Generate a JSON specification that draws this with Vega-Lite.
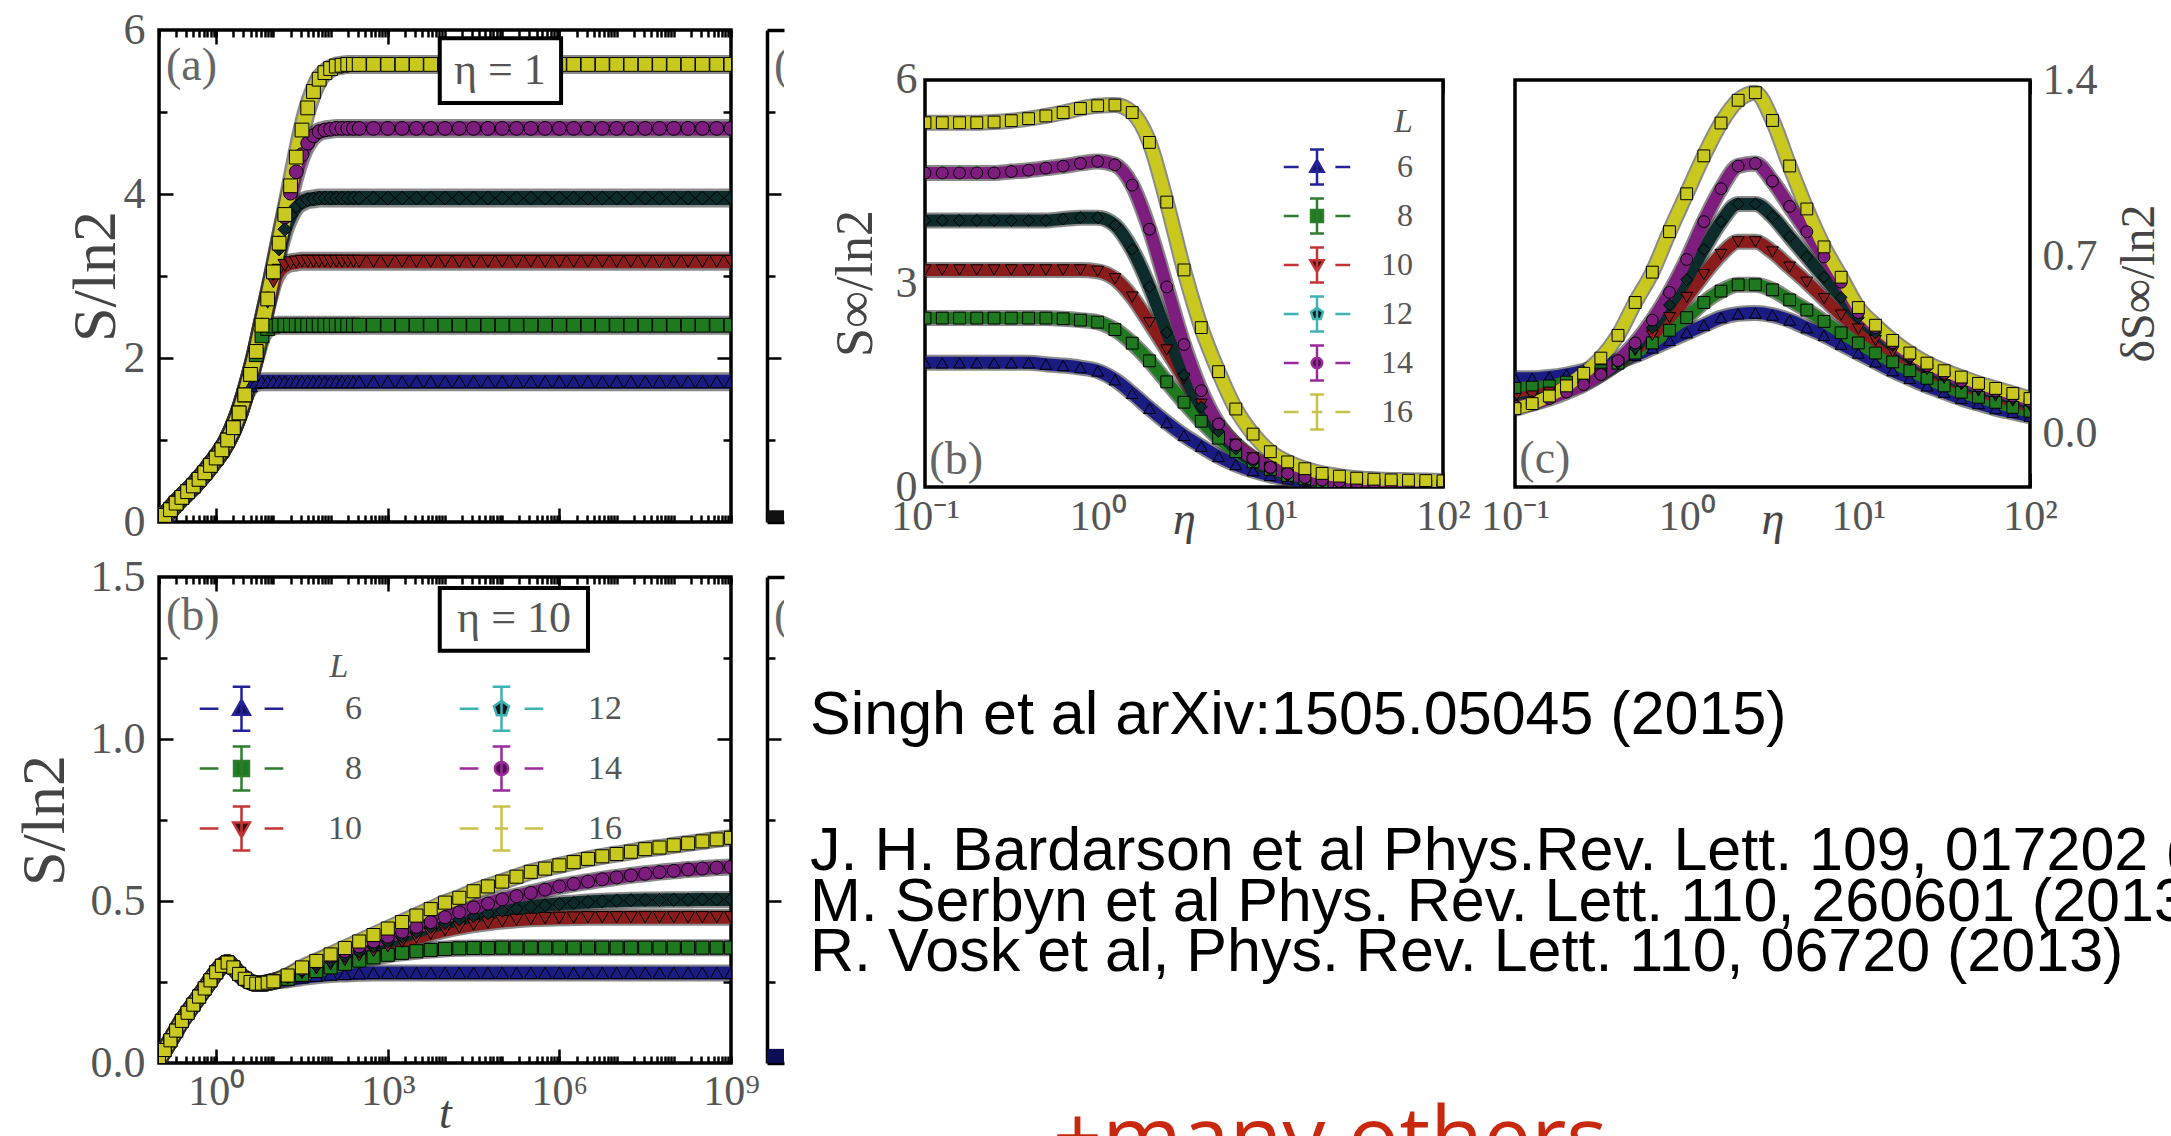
{
"$schema":"https://vega.github.io/schema/vega-lite/v6.json",
"padding":0,
"background":"white",
"spacing":0,
"columns":8,
"align":"each",
"bounds":"flush",
"config":{
 "view":{"stroke":null},
 "axis":{"grid":false,"domain":false,"tickColor":"black","tickWidth":2.5,"labelFont":"Liberation Serif","labelFontSize":44,"labelColor":"#555","titleFont":"Liberation Serif","titleFontWeight":"normal","titleColor":"#444","labelFlush":false,"labelOverlap":false},
 "legend":{"labelFont":"Liberation Serif","labelColor":"#555","titleFont":"Liberation Serif","titleFontWeight":"normal","titleColor":"#555"}
},
"datasets":{
"pa":[
{"t":0.1,"6":0.02,"8":0.02,"10":0.02,"12":0.02,"14":0.02,"16":0.02},
{"t":0.1259,"6":0.08,"8":0.08,"10":0.08,"12":0.08,"14":0.08,"16":0.08},
{"t":0.1585,"6":0.15,"8":0.15,"10":0.15,"12":0.15,"14":0.15,"16":0.15},
{"t":0.1995,"6":0.23,"8":0.23,"10":0.23,"12":0.23,"14":0.23,"16":0.23},
{"t":0.2512,"6":0.3,"8":0.3,"10":0.3,"12":0.3,"14":0.3,"16":0.3},
{"t":0.3162,"6":0.37,"8":0.37,"10":0.37,"12":0.37,"14":0.37,"16":0.37},
{"t":0.3981,"6":0.44,"8":0.44,"10":0.44,"12":0.44,"14":0.44,"16":0.44},
{"t":0.5012,"6":0.52,"8":0.52,"10":0.52,"12":0.52,"14":0.52,"16":0.52},
{"t":0.631,"6":0.6,"8":0.6,"10":0.6,"12":0.6,"14":0.6,"16":0.6},
{"t":0.7943,"6":0.69,"8":0.69,"10":0.69,"12":0.69,"14":0.69,"16":0.69},
{"t":1,"6":0.78,"8":0.78,"10":0.78,"12":0.78,"14":0.78,"16":0.78},
{"t":1.259,"6":0.88,"8":0.88,"10":0.88,"12":0.88,"14":0.88,"16":0.88},
{"t":1.585,"6":1.0,"8":1.0,"10":1.0,"12":1.0,"14":1.0,"16":1.0},
{"t":1.995,"6":1.15,"8":1.15,"10":1.15,"12":1.15,"14":1.15,"16":1.15},
{"t":2.512,"6":1.33,"8":1.33,"10":1.33,"12":1.33,"14":1.33,"16":1.33},
{"t":3.162,"6":1.54,"8":1.55,"10":1.55,"12":1.55,"14":1.55,"16":1.55},
{"t":3.981,"6":1.66,"8":1.8,"10":1.8,"12":1.8,"14":1.8,"16":1.8},
{"t":5.012,"6":1.7,"8":2.04,"10":2.08,"12":2.08,"14":2.08,"16":2.08},
{"t":6.31,"6":1.71,"8":2.27,"10":2.4,"12":2.4,"14":2.4,"16":2.4},
{"t":7.943,"6":1.71,"8":2.36,"10":2.68,"12":2.72,"14":2.72,"16":2.72},
{"t":10,"6":1.71,"8":2.39,"10":2.93,"12":3.03,"14":3.05,"16":3.05},
{"t":12.59,"6":1.71,"8":2.4,"10":3.07,"12":3.33,"14":3.4,"16":3.4},
{"t":15.85,"6":1.71,"8":2.4,"10":3.13,"12":3.57,"14":3.72,"16":3.75},
{"t":19.95,"6":1.71,"8":2.4,"10":3.16,"12":3.74,"14":4.01,"16":4.1},
{"t":25.12,"6":1.71,"8":2.4,"10":3.17,"12":3.85,"14":4.27,"16":4.45},
{"t":31.62,"6":1.71,"8":2.4,"10":3.18,"12":3.9,"14":4.48,"16":4.78},
{"t":39.81,"6":1.71,"8":2.4,"10":3.18,"12":3.93,"14":4.62,"16":5.05},
{"t":50.12,"6":1.71,"8":2.4,"10":3.18,"12":3.94,"14":4.71,"16":5.25},
{"t":63.1,"6":1.71,"8":2.4,"10":3.18,"12":3.95,"14":4.76,"16":5.4},
{"t":79.43,"6":1.71,"8":2.4,"10":3.18,"12":3.95,"14":4.78,"16":5.48},
{"t":100,"6":1.71,"8":2.4,"10":3.18,"12":3.95,"14":4.79,"16":5.53},
{"t":125.9,"6":1.71,"8":2.4,"10":3.18,"12":3.95,"14":4.8,"16":5.56},
{"t":158.5,"6":1.71,"8":2.4,"10":3.18,"12":3.95,"14":4.8,"16":5.57},
{"t":199.5,"6":1.71,"8":2.4,"10":3.18,"12":3.95,"14":4.8,"16":5.58},
{"t":251.2,"6":1.71,"8":2.4,"10":3.18,"12":3.95,"14":4.8,"16":5.58},
{"t":316.2,"6":1.71,"8":2.4,"10":3.18,"12":3.95,"14":4.8,"16":5.58},
{"t":562.3,"6":1.71,"8":2.4,"10":3.18,"12":3.95,"14":4.8,"16":5.58},
{"t":1000,"6":1.71,"8":2.4,"10":3.18,"12":3.95,"14":4.8,"16":5.58},
{"t":1778,"6":1.71,"8":2.4,"10":3.18,"12":3.95,"14":4.8,"16":5.58},
{"t":3162,"6":1.71,"8":2.4,"10":3.18,"12":3.95,"14":4.8,"16":5.58},
{"t":5623,"6":1.71,"8":2.4,"10":3.18,"12":3.95,"14":4.8,"16":5.58},
{"t":1e4,"6":1.71,"8":2.4,"10":3.18,"12":3.95,"14":4.8,"16":5.58},
{"t":1.778e4,"6":1.71,"8":2.4,"10":3.18,"12":3.95,"14":4.8,"16":5.58},
{"t":3.162e4,"6":1.71,"8":2.4,"10":3.18,"12":3.95,"14":4.8,"16":5.58},
{"t":5.623e4,"6":1.71,"8":2.4,"10":3.18,"12":3.95,"14":4.8,"16":5.58},
{"t":1e5,"6":1.71,"8":2.4,"10":3.18,"12":3.95,"14":4.8,"16":5.58},
{"t":1.778e5,"6":1.71,"8":2.4,"10":3.18,"12":3.95,"14":4.8,"16":5.58},
{"t":3.162e5,"6":1.71,"8":2.4,"10":3.18,"12":3.95,"14":4.8,"16":5.58},
{"t":5.623e5,"6":1.71,"8":2.4,"10":3.18,"12":3.95,"14":4.8,"16":5.58},
{"t":1e6,"6":1.71,"8":2.4,"10":3.18,"12":3.95,"14":4.8,"16":5.58},
{"t":1.778e6,"6":1.71,"8":2.4,"10":3.18,"12":3.95,"14":4.8,"16":5.58},
{"t":3.162e6,"6":1.71,"8":2.4,"10":3.18,"12":3.95,"14":4.8,"16":5.58},
{"t":5.623e6,"6":1.71,"8":2.4,"10":3.18,"12":3.95,"14":4.8,"16":5.58},
{"t":1e7,"6":1.71,"8":2.4,"10":3.18,"12":3.95,"14":4.8,"16":5.58},
{"t":1.778e7,"6":1.71,"8":2.4,"10":3.18,"12":3.95,"14":4.8,"16":5.58},
{"t":3.162e7,"6":1.71,"8":2.4,"10":3.18,"12":3.95,"14":4.8,"16":5.58},
{"t":5.623e7,"6":1.71,"8":2.4,"10":3.18,"12":3.95,"14":4.8,"16":5.58},
{"t":1e8,"6":1.71,"8":2.4,"10":3.18,"12":3.95,"14":4.8,"16":5.58},
{"t":1.778e8,"6":1.71,"8":2.4,"10":3.18,"12":3.95,"14":4.8,"16":5.58},
{"t":3.162e8,"6":1.71,"8":2.4,"10":3.18,"12":3.95,"14":4.8,"16":5.58},
{"t":5.623e8,"6":1.71,"8":2.4,"10":3.18,"12":3.95,"14":4.8,"16":5.58},
{"t":1e9,"6":1.71,"8":2.4,"10":3.18,"12":3.95,"14":4.8,"16":5.58}
],
"pb":[
{"t":0.1,"6":0.01,"8":0.01,"10":0.01,"12":0.01,"14":0.01,"16":0.01},
{"t":0.1259,"6":0.04,"8":0.04,"10":0.04,"12":0.04,"14":0.04,"16":0.04},
{"t":0.1585,"6":0.07,"8":0.07,"10":0.07,"12":0.07,"14":0.07,"16":0.07},
{"t":0.1995,"6":0.1,"8":0.1,"10":0.1,"12":0.1,"14":0.1,"16":0.1},
{"t":0.2512,"6":0.13,"8":0.13,"10":0.13,"12":0.13,"14":0.13,"16":0.13},
{"t":0.3162,"6":0.155,"8":0.155,"10":0.155,"12":0.155,"14":0.155,"16":0.155},
{"t":0.3981,"6":0.18,"8":0.18,"10":0.18,"12":0.18,"14":0.18,"16":0.18},
{"t":0.5012,"6":0.205,"8":0.205,"10":0.205,"12":0.205,"14":0.205,"16":0.205},
{"t":0.631,"6":0.23,"8":0.23,"10":0.23,"12":0.23,"14":0.23,"16":0.23},
{"t":0.7943,"6":0.255,"8":0.255,"10":0.255,"12":0.255,"14":0.255,"16":0.255},
{"t":1,"6":0.28,"8":0.28,"10":0.28,"12":0.28,"14":0.28,"16":0.28},
{"t":1.259,"6":0.3,"8":0.3,"10":0.3,"12":0.3,"14":0.3,"16":0.3},
{"t":1.585,"6":0.31,"8":0.31,"10":0.31,"12":0.31,"14":0.31,"16":0.31},
{"t":1.995,"6":0.295,"8":0.295,"10":0.295,"12":0.295,"14":0.295,"16":0.295},
{"t":2.512,"6":0.275,"8":0.275,"10":0.275,"12":0.275,"14":0.275,"16":0.275},
{"t":3.162,"6":0.26,"8":0.26,"10":0.26,"12":0.26,"14":0.26,"16":0.26},
{"t":3.981,"6":0.25,"8":0.25,"10":0.25,"12":0.25,"14":0.25,"16":0.25},
{"t":5.012,"6":0.245,"8":0.245,"10":0.245,"12":0.245,"14":0.245,"16":0.245},
{"t":6.31,"6":0.245,"8":0.245,"10":0.245,"12":0.245,"14":0.245,"16":0.245},
{"t":7.943,"6":0.248,"8":0.248,"10":0.248,"12":0.248,"14":0.248,"16":0.248},
{"t":10,"6":0.252,"8":0.252,"10":0.252,"12":0.252,"14":0.252,"16":0.252},
{"t":17.78,"6":0.257,"8":0.26,"10":0.262,"12":0.265,"14":0.268,"16":0.27},
{"t":31.62,"6":0.264,"8":0.272,"10":0.278,"12":0.285,"14":0.29,"16":0.295},
{"t":56.23,"6":0.269,"8":0.284,"10":0.292,"12":0.3,"14":0.31,"16":0.315},
{"t":100,"6":0.273,"8":0.295,"10":0.305,"12":0.315,"14":0.33,"16":0.335},
{"t":177.8,"6":0.275,"8":0.306,"10":0.318,"12":0.33,"14":0.345,"16":0.355},
{"t":316.2,"6":0.277,"8":0.316,"10":0.332,"12":0.345,"14":0.36,"16":0.375},
{"t":562.3,"6":0.278,"8":0.326,"10":0.346,"12":0.36,"14":0.375,"16":0.395},
{"t":1000,"6":0.278,"8":0.334,"10":0.36,"12":0.375,"14":0.39,"16":0.415},
{"t":1778,"6":0.278,"8":0.34,"10":0.374,"12":0.39,"14":0.405,"16":0.435},
{"t":3162,"6":0.278,"8":0.345,"10":0.387,"12":0.405,"14":0.42,"16":0.455},
{"t":5623,"6":0.278,"8":0.349,"10":0.399,"12":0.42,"14":0.435,"16":0.475},
{"t":1e4,"6":0.278,"8":0.352,"10":0.41,"12":0.432,"14":0.45,"16":0.495},
{"t":1.778e4,"6":0.278,"8":0.354,"10":0.419,"12":0.443,"14":0.465,"16":0.51},
{"t":3.162e4,"6":0.278,"8":0.355,"10":0.427,"12":0.453,"14":0.48,"16":0.53},
{"t":5.623e4,"6":0.278,"8":0.355,"10":0.433,"12":0.462,"14":0.492,"16":0.545},
{"t":1e5,"6":0.278,"8":0.356,"10":0.438,"12":0.47,"14":0.505,"16":0.56},
{"t":1.778e5,"6":0.278,"8":0.356,"10":0.442,"12":0.476,"14":0.515,"16":0.575},
{"t":3.162e5,"6":0.278,"8":0.356,"10":0.445,"12":0.482,"14":0.525,"16":0.59},
{"t":5.623e5,"6":0.278,"8":0.356,"10":0.447,"12":0.487,"14":0.535,"16":0.6},
{"t":1e6,"6":0.278,"8":0.356,"10":0.448,"12":0.491,"14":0.545,"16":0.61},
{"t":1.778e6,"6":0.278,"8":0.356,"10":0.449,"12":0.494,"14":0.553,"16":0.62},
{"t":3.162e6,"6":0.278,"8":0.356,"10":0.45,"12":0.497,"14":0.56,"16":0.63},
{"t":5.623e6,"6":0.278,"8":0.356,"10":0.45,"12":0.499,"14":0.567,"16":0.638},
{"t":1e7,"6":0.278,"8":0.356,"10":0.45,"12":0.501,"14":0.573,"16":0.645},
{"t":1.778e7,"6":0.278,"8":0.356,"10":0.45,"12":0.502,"14":0.579,"16":0.652},
{"t":3.162e7,"6":0.278,"8":0.356,"10":0.45,"12":0.503,"14":0.584,"16":0.66},
{"t":5.623e7,"6":0.278,"8":0.356,"10":0.45,"12":0.503,"14":0.589,"16":0.665},
{"t":1e8,"6":0.278,"8":0.356,"10":0.45,"12":0.504,"14":0.593,"16":0.672},
{"t":1.778e8,"6":0.278,"8":0.356,"10":0.45,"12":0.504,"14":0.597,"16":0.678},
{"t":3.162e8,"6":0.278,"8":0.356,"10":0.45,"12":0.505,"14":0.6,"16":0.684},
{"t":5.623e8,"6":0.278,"8":0.356,"10":0.45,"12":0.505,"14":0.603,"16":0.69},
{"t":1e9,"6":0.278,"8":0.356,"10":0.45,"12":0.505,"14":0.605,"16":0.695}
],
"pr":[
{"e":0.1,"6":1.83,"8":2.49,"10":3.2,"12":3.93,"14":4.63,"16":5.37},
{"e":0.1259,"6":1.83,"8":2.49,"10":3.2,"12":3.93,"14":4.63,"16":5.37},
{"e":0.1585,"6":1.83,"8":2.49,"10":3.2,"12":3.93,"14":4.63,"16":5.37},
{"e":0.1995,"6":1.83,"8":2.49,"10":3.2,"12":3.93,"14":4.63,"16":5.37},
{"e":0.2512,"6":1.83,"8":2.49,"10":3.2,"12":3.93,"14":4.63,"16":5.38},
{"e":0.3162,"6":1.83,"8":2.49,"10":3.2,"12":3.93,"14":4.65,"16":5.4},
{"e":0.3981,"6":1.83,"8":2.49,"10":3.2,"12":3.93,"14":4.67,"16":5.43},
{"e":0.5012,"6":1.81,"8":2.49,"10":3.2,"12":3.93,"14":4.7,"16":5.47},
{"e":0.631,"6":1.79,"8":2.48,"10":3.2,"12":3.95,"14":4.73,"16":5.52},
{"e":0.7943,"6":1.76,"8":2.46,"10":3.2,"12":3.97,"14":4.77,"16":5.58},
{"e":1,"6":1.71,"8":2.43,"10":3.18,"12":3.97,"14":4.8,"16":5.62},
{"e":1.259,"6":1.58,"8":2.32,"10":3.07,"12":3.86,"14":4.75,"16":5.63},
{"e":1.585,"6":1.38,"8":2.12,"10":2.8,"12":3.5,"14":4.45,"16":5.52},
{"e":1.995,"6":1.16,"8":1.86,"10":2.42,"12":2.95,"14":3.8,"16":5.08},
{"e":2.512,"6":0.95,"8":1.55,"10":2.02,"12":2.28,"14":2.95,"16":4.2},
{"e":3.162,"6":0.76,"8":1.25,"10":1.6,"12":1.65,"14":2.1,"16":3.2},
{"e":3.981,"6":0.6,"8":0.97,"10":1.22,"12":1.18,"14":1.42,"16":2.35},
{"e":5.012,"6":0.45,"8":0.72,"10":0.9,"12":0.82,"14":0.93,"16":1.7},
{"e":6.31,"6":0.33,"8":0.52,"10":0.63,"12":0.56,"14":0.62,"16":1.15},
{"e":7.943,"6":0.24,"8":0.37,"10":0.43,"12":0.37,"14":0.42,"16":0.78},
{"e":10,"6":0.17,"8":0.26,"10":0.29,"12":0.25,"14":0.29,"16":0.52},
{"e":12.59,"6":0.12,"8":0.17,"10":0.19,"12":0.17,"14":0.2,"16":0.37},
{"e":15.85,"6":0.085,"8":0.12,"10":0.13,"12":0.11,"14":0.14,"16":0.27},
{"e":19.95,"6":0.06,"8":0.08,"10":0.09,"12":0.08,"14":0.1,"16":0.2},
{"e":25.12,"6":0.045,"8":0.06,"10":0.065,"12":0.06,"14":0.08,"16":0.16},
{"e":31.62,"6":0.035,"8":0.045,"10":0.05,"12":0.045,"14":0.06,"16":0.13},
{"e":39.81,"6":0.03,"8":0.035,"10":0.04,"12":0.035,"14":0.05,"16":0.115},
{"e":50.12,"6":0.025,"8":0.03,"10":0.03,"12":0.03,"14":0.045,"16":0.105},
{"e":63.1,"6":0.02,"8":0.025,"10":0.025,"12":0.025,"14":0.04,"16":0.1},
{"e":79.43,"6":0.015,"8":0.02,"10":0.02,"12":0.02,"14":0.035,"16":0.095},
{"e":100,"6":0.01,"8":0.02,"10":0.02,"12":0.02,"14":0.03,"16":0.09}
],
"pc":[
{"e":0.1,"6":0.22,"8":0.18,"10":0.14,"12":0.12,"14":0.11,"16":0.1},
{"e":0.1259,"6":0.22,"8":0.185,"10":0.15,"12":0.13,"14":0.12,"16":0.12},
{"e":0.1585,"6":0.225,"8":0.19,"10":0.165,"12":0.15,"14":0.14,"16":0.15},
{"e":0.1995,"6":0.235,"8":0.205,"10":0.185,"12":0.175,"14":0.165,"16":0.19},
{"e":0.2512,"6":0.25,"8":0.225,"10":0.21,"12":0.2,"14":0.195,"16":0.24},
{"e":0.3162,"6":0.27,"8":0.25,"10":0.24,"12":0.235,"14":0.235,"16":0.3},
{"e":0.3981,"6":0.29,"8":0.28,"10":0.28,"12":0.28,"14":0.29,"16":0.39},
{"e":0.5012,"6":0.31,"8":0.32,"10":0.33,"12":0.34,"14":0.36,"16":0.52},
{"e":0.631,"6":0.34,"8":0.36,"10":0.39,"12":0.42,"14":0.45,"16":0.64},
{"e":0.7943,"6":0.37,"8":0.41,"10":0.46,"12":0.51,"14":0.56,"16":0.8},
{"e":1,"6":0.4,"8":0.46,"10":0.54,"12":0.61,"14":0.69,"16":0.95},
{"e":1.259,"6":0.43,"8":0.52,"10":0.63,"12":0.73,"14":0.84,"16":1.1},
{"e":1.585,"6":0.46,"8":0.565,"10":0.71,"12":0.84,"14":0.97,"16":1.23},
{"e":1.995,"6":0.475,"8":0.59,"10":0.76,"12":0.91,"14":1.06,"16":1.32},
{"e":2.512,"6":0.478,"8":0.59,"10":0.76,"12":0.91,"14":1.07,"16":1.35},
{"e":3.162,"6":0.47,"8":0.57,"10":0.72,"12":0.86,"14":1.0,"16":1.24},
{"e":3.981,"6":0.45,"8":0.53,"10":0.66,"12":0.78,"14":0.9,"16":1.06},
{"e":5.012,"6":0.42,"8":0.49,"10":0.6,"12":0.7,"14":0.8,"16":0.89},
{"e":6.31,"6":0.39,"8":0.445,"10":0.535,"12":0.62,"14":0.7,"16":0.74},
{"e":7.943,"6":0.355,"8":0.4,"10":0.47,"12":0.54,"14":0.6,"16":0.62},
{"e":10,"6":0.32,"8":0.36,"10":0.415,"12":0.46,"14":0.48,"16":0.5},
{"e":12.59,"6":0.285,"8":0.32,"10":0.37,"12":0.4,"14":0.42,"16":0.43},
{"e":15.85,"6":0.25,"8":0.285,"10":0.325,"12":0.35,"14":0.36,"16":0.37},
{"e":19.95,"6":0.22,"8":0.25,"10":0.29,"12":0.3,"14":0.31,"16":0.32},
{"e":25.12,"6":0.19,"8":0.22,"10":0.255,"12":0.26,"14":0.27,"16":0.28},
{"e":31.62,"6":0.165,"8":0.19,"10":0.22,"12":0.23,"14":0.24,"16":0.25},
{"e":39.81,"6":0.14,"8":0.165,"10":0.195,"12":0.2,"14":0.21,"16":0.225},
{"e":50.12,"6":0.12,"8":0.145,"10":0.17,"12":0.18,"14":0.19,"16":0.2},
{"e":63.1,"6":0.1,"8":0.125,"10":0.15,"12":0.16,"14":0.17,"16":0.18},
{"e":79.43,"6":0.085,"8":0.105,"10":0.13,"12":0.14,"14":0.15,"16":0.16},
{"e":100,"6":0.07,"8":0.09,"10":0.11,"12":0.12,"14":0.13,"16":0.14}
]
},
"concat":[
{"width":159,"height":30,"mark":{"type":"point","opacity":0},"data":{"values":[]}},
{"width":572,"height":30,"mark":{"type":"point","opacity":0},"data":{"values":[]}},
{"width":36,"height":30,"mark":{"type":"point","opacity":0},"data":{"values":[]}},
{"width":17,"height":30,"mark":{"type":"point","opacity":0},"data":{"values":[]}},
{"width":141,"height":30,"mark":{"type":"point","opacity":0},"data":{"values":[]}},
{"width":518,"height":30,"mark":{"type":"point","opacity":0},"data":{"values":[]}},
{"width":72,"height":30,"mark":{"type":"point","opacity":0},"data":{"values":[]}},
{"width":515,"height":30,"mark":{"type":"point","opacity":0},"data":{"values":[]}},

{"width":159,"height":1,"mark":{"type":"point","opacity":0},"data":{"values":[]}},
{"width":572,"height":492,"view":{"stroke":"black","strokeWidth":3.5},
 "resolve":{"axis":{"x":"independent","y":"independent"}},
 "layer":[
  {"data":{"name":"pa"},"transform":[{"fold":["6","8","10","12","14","16"],"as":["key","S"]},{"calculate":"toNumber(datum.key)","as":"L"}],
   "mark":{"type":"line","strokeWidth":19,"interpolate":"monotone","clip":true,"color":"#2a2a2a","opacity":0.55},
   "encoding":{
    "x":{"field":"t","type":"quantitative","scale":{"type":"log","domain":[0.1,1e9],"nice":false},"axis":null},
    "y":{"field":"S","type":"quantitative","scale":{"domain":[0,6],"nice":false,"zero":false},"axis":null},
    "detail":{"field":"L","type":"nominal"}}},
  {"data":{"name":"pa"},"transform":[{"fold":["6","8","10","12","14","16"],"as":["key","S"]},{"calculate":"toNumber(datum.key)","as":"L"}],
   "mark":{"type":"line","strokeWidth":14,"interpolate":"monotone","clip":true},
   "encoding":{
    "x":{"field":"t","type":"quantitative","axis":{"orient":"bottom","values":[1,1000,1000000],"tickSize":-14,"labels":false,"title":null}},
    "y":{"field":"S","type":"quantitative","axis":{"orient":"left","values":[0,2,4,6],"ticks":false,"tickSize":0,"labelPadding":14,"title":"S/ln2","titleFontSize":62,"titleX":-64,"titleY":246,"titleAngle":270,"titleBaseline":"middle","titleAlign":"center"}},
    "color":{"field":"L","type":"nominal","scale":{"domain":[6,8,10,12,14,16],"range":["#1b1b84","#1f7a1f","#8a1c1c","#0e2b2b","#7d1d7d","#c8c81e"]},"legend":null}}},
  {"data":{"name":"pa"},"transform":[{"fold":["6","8","10","12","14","16"],"as":["key","S"]},{"calculate":"toNumber(datum.key)","as":"L"}],
   "mark":{"type":"point","filled":true,"size":190,"stroke":"black","strokeWidth":1,"opacity":1,"clip":true},
   "encoding":{
    "x":{"field":"t","type":"quantitative","axis":{"orient":"bottom","tickCount":50,"tickSize":-7,"labels":false,"title":null}},
    "y":{"field":"S","type":"quantitative","axis":{"orient":"left","values":[2,4],"tickSize":-14,"labels":false,"title":null}},
    "color":{"field":"L","type":"nominal","scale":{"domain":[6,8,10,12,14,16],"range":["#1b1b84","#1f7a1f","#8a1c1c","#0e2b2b","#7d1d7d","#c8c81e"]},"legend":null},
    "shape":{"field":"L","type":"nominal","scale":{"domain":[6,8,10,12,14,16],"range":["triangle-up","square","triangle-down","diamond","circle","square"]},"legend":null},
    "order":{"field":"L","type":"quantitative"}}},
  {"data":{"name":"pa"},"mark":{"type":"point","opacity":0},
   "encoding":{"x":{"field":"t","type":"quantitative","axis":{"orient":"top","values":[1,1000,1000000],"tickSize":-14,"labels":false,"title":null}},
    "y":{"field":"6","type":"quantitative","axis":{"orient":"left","values":[1,3,5],"tickSize":-8,"labels":false,"title":null}}}},
  {"data":{"name":"pa"},"mark":{"type":"point","opacity":0},
   "encoding":{"x":{"field":"t","type":"quantitative","axis":{"orient":"top","tickCount":50,"tickSize":-7,"labels":false,"title":null}},
    "y":{"field":"6","type":"quantitative","axis":{"orient":"right","values":[2,4],"tickSize":-14,"labels":false,"title":null}}}},
  {"data":{"name":"pa"},"mark":{"type":"point","opacity":0},
   "encoding":{"x":{"field":"t","type":"quantitative","axis":null},
    "y":{"field":"6","type":"quantitative","axis":{"orient":"right","values":[1,3,5],"tickSize":-8,"labels":false,"title":null}}}},
  {"data":{"values":[{}]},"mark":{"type":"rect","fill":"white","stroke":"black","strokeWidth":4},
   "encoding":{"x":{"datum":8100,"type":"quantitative","axis":null},"x2":{"datum":1070000},"y":{"datum":5.11,"type":"quantitative","axis":null},"y2":{"datum":5.9}}},
  {"data":{"values":[{}]},"mark":{"type":"text","text":"η = 1","font":"Liberation Serif","fontSize":44,"color":"#555","align":"center","baseline":"middle"},
   "encoding":{"x":{"datum":91000,"type":"quantitative","axis":null},"y":{"datum":5.5,"type":"quantitative","axis":null}}},
  {"data":{"values":[{}]},"mark":{"type":"text","text":"(a)","font":"Liberation Serif","fontSize":46,"color":"#666","align":"left","baseline":"middle"},
   "encoding":{"x":{"datum":0.1324,"type":"quantitative","axis":null},"y":{"datum":5.56,"type":"quantitative","axis":null}}}
 ]},
{"width":36,"height":1,"mark":{"type":"point","opacity":0},"data":{"values":[]}},
{"width":17,"height":492,
 "resolve":{"axis":{"x":"independent","y":"independent"}},
 "layer":[
  {"data":{"values":[{"t":0.1,"S":0.07},{"t":0.198,"S":0.07}]},"mark":{"type":"line","strokeWidth":12,"color":"#111","clip":true},
   "encoding":{"x":{"field":"t","type":"quantitative","scale":{"type":"log","domain":[0.1,0.198],"nice":false},"axis":{"orient":"bottom","domain":true,"domainColor":"black","domainWidth":3.5,"ticks":false,"labels":false,"title":null}},
    "y":{"field":"S","type":"quantitative","scale":{"domain":[0,6],"nice":false},"axis":{"orient":"left","domain":true,"domainColor":"black","domainWidth":3.5,"values":[2,4],"tickSize":-14,"labels":false,"title":null}}}},
  {"data":{"values":[{"t":0.1,"S":0.07}]},"mark":{"type":"point","opacity":0},
   "encoding":{"x":{"field":"t","type":"quantitative","axis":{"orient":"top","domain":true,"domainColor":"black","domainWidth":3.5,"ticks":false,"labels":false,"title":null}},
    "y":{"field":"S","type":"quantitative","axis":{"orient":"left","values":[1,3,5],"tickSize":-8,"labels":false,"title":null}}}},
  {"data":{"values":[{}]},"mark":{"type":"text","text":"(c)","font":"Liberation Serif","fontSize":46,"color":"#666","align":"left","baseline":"middle","clip":true},
   "encoding":{"x":{"datum":0.1324,"type":"quantitative","axis":null},"y":{"datum":5.56,"type":"quantitative","axis":null}}}
 ]},
{"width":141,"height":1,"mark":{"type":"point","opacity":0},"data":{"values":[]}},
{"width":518,"height":457,
 "resolve":{"axis":{"x":"independent","y":"independent"},"scale":{"shape":"independent","fill":"independent","stroke":"independent"}},
 "layer":[
  {"data":{"values":[{}]},"mark":{"type":"rect","fill":"white","stroke":"black","strokeWidth":3.5},
   "encoding":{"x":{"datum":0.1,"type":"quantitative","scale":{"type":"log","domain":[0.1,100],"nice":false},"axis":null},"x2":{"datum":100},"y":{"datum":0,"type":"quantitative","scale":{"domain":[0,6.737],"nice":false,"zero":false},"axis":null},"y2":{"datum":6}}},
  {"data":{"name":"pr"},"transform":[{"fold":["6","8","10","12","14","16"],"as":["key","S"]},{"calculate":"toNumber(datum.key)","as":"L"}],
   "mark":{"type":"line","strokeWidth":16,"interpolate":"monotone","clip":true,"color":"#2a2a2a","opacity":0.55},
   "encoding":{
    "x":{"field":"e","type":"quantitative","scale":{"type":"log","domain":[0.1,100],"nice":false},"axis":null},
    "y":{"field":"S","type":"quantitative","scale":{"domain":[0,6.737],"nice":false,"zero":false},"axis":null},
    "detail":{"field":"L","type":"nominal"}}},
  {"data":{"name":"pr"},"transform":[{"fold":["6","8","10","12","14","16"],"as":["key","S"]},{"calculate":"toNumber(datum.key)","as":"L"}],
   "mark":{"type":"line","strokeWidth":12,"interpolate":"monotone","clip":true},
   "encoding":{
    "x":{"field":"e","type":"quantitative","axis":{"orient":"bottom","values":[0.1,1,10,100],"ticks":false,"tickSize":0,"labelPadding":9,"labelFontSize":42,"labelExpr":"datum.value < 0.5 ? '10⁻¹' : datum.value < 5 ? '10⁰' : datum.value < 50 ? '10¹' : '10²'","title":"η","titleFontStyle":"italic","titleFontSize":46,"titleY":10,"titleBaseline":"top"}},
    "y":{"field":"S","type":"quantitative","axis":{"orient":"left","values":[0,3,6],"ticks":false,"tickSize":0,"labelPadding":8,"title":"S∞/ln2","titleFontSize":52,"titleX":-70,"titleY":253,"titleAngle":270,"titleBaseline":"middle","titleAlign":"center"}},
    "color":{"field":"L","type":"nominal","scale":{"domain":[6,8,10,12,14,16],"range":["#1b1b84","#1f7a1f","#8a1c1c","#0e2b2b","#7d1d7d","#c8c81e"]},"legend":null}}},
  {"data":{"name":"pr"},"transform":[{"fold":["6","8","10","12","14","16"],"as":["key","S"]},{"calculate":"toNumber(datum.key)","as":"L"}],
   "mark":{"type":"point","filled":true,"size":140,"stroke":"black","strokeWidth":1,"opacity":1,"clip":true},
   "encoding":{
    "x":{"field":"e","type":"quantitative","axis":{"orient":"bottom","values":[0.1,1,10,100],"tickSize":-14,"labels":false,"title":null}},
    "y":{"field":"S","type":"quantitative","axis":{"orient":"left","values":[3],"tickSize":-14,"labels":false,"title":null}},
    "color":{"field":"L","type":"nominal","scale":{"domain":[6,8,10,12,14,16],"range":["#1b1b84","#1f7a1f","#8a1c1c","#0e2b2b","#7d1d7d","#c8c81e"]},"legend":null},
    "shape":{"field":"L","type":"nominal","scale":{"domain":[6,8,10,12,14,16],"range":["triangle-up","square","triangle-down","diamond","circle","square"]},"legend":null},
    "order":{"field":"L","type":"quantitative"}}},
  {"data":{"name":"pr"},"mark":{"type":"point","opacity":0},
   "encoding":{"x":{"field":"e","type":"quantitative","axis":{"orient":"top","offset":-50,"values":[0.1,1,10,100],"tickSize":-14,"labels":false,"title":null}},
    "y":{"field":"6","type":"quantitative","axis":{"orient":"left","values":[1.5,4.5],"tickSize":-8,"labels":false,"title":null}}}},
  {"data":{"name":"pr"},"mark":{"type":"point","opacity":0},
   "encoding":{"x":{"field":"e","type":"quantitative","axis":{"orient":"top","offset":-50,"tickCount":30,"tickSize":-7,"labels":false,"title":null}},
    "y":{"field":"6","type":"quantitative","axis":{"orient":"right","values":[3],"tickSize":-14,"labels":false,"title":null}}}},
  {"data":{"name":"pr"},"mark":{"type":"point","opacity":0},
   "encoding":{"x":{"field":"e","type":"quantitative","axis":{"orient":"bottom","tickCount":30,"tickSize":-7,"labels":false,"title":null}},
    "y":{"field":"6","type":"quantitative","axis":{"orient":"right","values":[1.5,4.5],"tickSize":-8,"labels":false,"title":null}}}},
  {"data":{"values":[]},"mark":{"type":"point","filled":true,"strokeWidth":2.5,"opacity":1},
   "encoding":{
    "fill":{"field":"L","type":"nominal","scale":{"domain":[6,8,10,12,14,16],"range":["#14145a","#1e7a1e","#3a0c0c","#061818","#4c124c","#c9c53a"]},"legend":{"orient":"none","legendX":373,"legendY":75,"title":"L","titleFontStyle":"italic","titleFontSize":34,"titleAnchor":"end","titlePadding":9,"symbolSize":1225,"symbolStrokeWidth":2.5,"symbolOpacity":1,"labelFontSize":32,"labelAlign":"right","labelOffset":77,"rowPadding":3}},
    "stroke":{"field":"L","type":"nominal","scale":{"domain":[6,8,10,12,14,16],"range":["#23239a","#2d7d2d","#c43434","#3fb3b3","#9b2a9b","#c9c24a"]},"legend":{"orient":"none","legendX":373,"legendY":75,"title":"L","titleFontStyle":"italic","titleFontSize":34,"titleAnchor":"end","titlePadding":9,"symbolSize":1225,"symbolStrokeWidth":2.5,"symbolOpacity":1,"labelFontSize":32,"labelAlign":"right","labelOffset":77,"rowPadding":3}},
    "shape":{"field":"L","type":"nominal","scale":{"domain":[6,8,10,12,14,16],"range":[
      "M-1.9,0H-1.05M1.05,0H1.9M0,-1V1M-0.4,-1H0.4M-0.4,1H0.4M0,-0.4L0.38,0.27H-0.38Z",
      "M-1.9,0H-1.05M1.05,0H1.9M0,-1V1M-0.4,-1H0.4M-0.4,1H0.4M-0.34,-0.34H0.34V0.34H-0.34Z",
      "M-1.9,0H-1.05M1.05,0H1.9M0,-1V1M-0.4,-1H0.4M-0.4,1H0.4M0,0.4L0.38,-0.27H-0.38Z",
      "M-1.9,0H-1.05M1.05,0H1.9M0,-1V1M-0.4,-1H0.4M-0.4,1H0.4M0,-0.36L0.34,-0.11L0.21,0.29H-0.21L-0.34,-0.11Z",
      "M-1.9,0H-1.05M1.05,0H1.9M0,-1V1M-0.4,-1H0.4M-0.4,1H0.4M-0.3,0A0.3,0.3 0 1 0 0.3,0A0.3,0.3 0 1 0 -0.3,0Z",
      "M-1.9,0H-1.05M1.05,0H1.9M0,-1V1M-0.4,-1H0.4M-0.4,1H0.4M-0.3,0H0.3"]},"legend":{"orient":"none","legendX":373,"legendY":75,"title":"L","titleFontStyle":"italic","titleFontSize":34,"titleAnchor":"end","titlePadding":9,"symbolSize":1225,"symbolStrokeWidth":2.5,"symbolOpacity":1,"labelFontSize":32,"labelAlign":"right","labelOffset":77,"rowPadding":3}}}},
  {"data":{"values":[{}]},"mark":{"type":"text","text":"(b)","font":"Liberation Serif","fontSize":46,"color":"#666","align":"left","baseline":"middle"},
   "encoding":{"x":{"datum":0.106,"type":"quantitative","axis":null},"y":{"datum":0.4,"type":"quantitative","axis":null}}}
 ]},
{"width":72,"height":1,"mark":{"type":"point","opacity":0},"data":{"values":[]}},
{"width":515,"height":457,
 "resolve":{"axis":{"x":"independent","y":"independent"}},
 "layer":[
  {"data":{"values":[{}]},"mark":{"type":"rect","fill":"white","stroke":"black","strokeWidth":3.5},
   "encoding":{"x":{"datum":0.1,"type":"quantitative","scale":{"type":"log","domain":[0.1,100],"nice":false},"axis":null},"x2":{"datum":100},"y":{"datum":-0.21,"type":"quantitative","scale":{"domain":[-0.21,1.598],"nice":false,"zero":false},"axis":null},"y2":{"datum":1.4}}},
  {"data":{"name":"pc"},"transform":[{"fold":["6","8","10","12","14","16"],"as":["key","S"]},{"calculate":"toNumber(datum.key)","as":"L"}],
   "mark":{"type":"line","strokeWidth":16,"interpolate":"monotone","clip":true,"color":"#2a2a2a","opacity":0.55},
   "encoding":{
    "x":{"field":"e","type":"quantitative","scale":{"type":"log","domain":[0.1,100],"nice":false},"axis":null},
    "y":{"field":"S","type":"quantitative","scale":{"domain":[-0.21,1.598],"nice":false,"zero":false},"axis":null},
    "detail":{"field":"L","type":"nominal"}}},
  {"data":{"name":"pc"},"transform":[{"fold":["6","8","10","12","14","16"],"as":["key","S"]},{"calculate":"toNumber(datum.key)","as":"L"}],
   "mark":{"type":"line","strokeWidth":12,"interpolate":"monotone","clip":true},
   "encoding":{
    "x":{"field":"e","type":"quantitative","axis":{"orient":"bottom","values":[0.1,1,10,100],"ticks":false,"tickSize":0,"labelPadding":9,"labelFontSize":42,"labelExpr":"datum.value < 0.5 ? '10⁻¹' : datum.value < 5 ? '10⁰' : datum.value < 50 ? '10¹' : '10²'","title":"η","titleFontStyle":"italic","titleFontSize":46,"titleY":10,"titleBaseline":"top"}},
    "y":{"field":"S","type":"quantitative","axis":{"orient":"right","values":[0,0.7,1.4],"format":".1f","ticks":false,"tickSize":0,"labelPadding":12,"title":"δS∞/ln2","titleFontSize":48,"titleX":109,"titleY":253,"titleAngle":270,"titleBaseline":"middle","titleAlign":"center"}},
    "color":{"field":"L","type":"nominal","scale":{"domain":[6,8,10,12,14,16],"range":["#1b1b84","#1f7a1f","#8a1c1c","#0e2b2b","#7d1d7d","#c8c81e"]},"legend":null}}},
  {"data":{"name":"pc"},"transform":[{"fold":["6","8","10","12","14","16"],"as":["key","S"]},{"calculate":"toNumber(datum.key)","as":"L"}],
   "mark":{"type":"point","filled":true,"size":140,"stroke":"black","strokeWidth":1,"opacity":1,"clip":true},
   "encoding":{
    "x":{"field":"e","type":"quantitative","axis":{"orient":"bottom","values":[0.1,1,10,100],"tickSize":-14,"labels":false,"title":null}},
    "y":{"field":"S","type":"quantitative","axis":{"orient":"right","values":[0,0.7],"tickSize":-14,"labels":false,"title":null}},
    "color":{"field":"L","type":"nominal","scale":{"domain":[6,8,10,12,14,16],"range":["#1b1b84","#1f7a1f","#8a1c1c","#0e2b2b","#7d1d7d","#c8c81e"]},"legend":null},
    "shape":{"field":"L","type":"nominal","scale":{"domain":[6,8,10,12,14,16],"range":["triangle-up","square","triangle-down","diamond","circle","square"]},"legend":null},
    "order":{"field":"L","type":"quantitative"}}},
  {"data":{"name":"pc"},"mark":{"type":"point","opacity":0},
   "encoding":{"x":{"field":"e","type":"quantitative","axis":{"orient":"top","offset":-50,"values":[0.1,1,10,100],"tickSize":-14,"labels":false,"title":null}},
    "y":{"field":"6","type":"quantitative","axis":{"orient":"right","values":[0.35,1.05],"tickSize":-8,"labels":false,"title":null}}}},
  {"data":{"name":"pc"},"mark":{"type":"point","opacity":0},
   "encoding":{"x":{"field":"e","type":"quantitative","axis":{"orient":"top","offset":-50,"tickCount":30,"tickSize":-7,"labels":false,"title":null}},
    "y":{"field":"6","type":"quantitative","axis":{"orient":"left","values":[0,0.7],"tickSize":-14,"labels":false,"title":null}}}},
  {"data":{"name":"pc"},"mark":{"type":"point","opacity":0},
   "encoding":{"x":{"field":"e","type":"quantitative","axis":{"orient":"bottom","tickCount":30,"tickSize":-7,"labels":false,"title":null}},
    "y":{"field":"6","type":"quantitative","axis":{"orient":"left","values":[0.35,1.05],"tickSize":-8,"labels":false,"title":null}}}},
  {"data":{"values":[{}]},"mark":{"type":"text","text":"(c)","font":"Liberation Serif","fontSize":46,"color":"#666","align":"left","baseline":"middle"},
   "encoding":{"x":{"datum":0.106,"type":"quantitative","axis":null},"y":{"datum":-0.1,"type":"quantitative","axis":null}}}
 ]},

{"width":159,"height":55,"mark":{"type":"point","opacity":0},"data":{"values":[]}},
{"width":572,"height":55,"mark":{"type":"point","opacity":0},"data":{"values":[]}},
{"width":36,"height":55,"mark":{"type":"point","opacity":0},"data":{"values":[]}},
{"width":17,"height":55,"mark":{"type":"point","opacity":0},"data":{"values":[]}},
{"width":141,"height":55,"mark":{"type":"point","opacity":0},"data":{"values":[]}},
{"width":518,"height":55,"mark":{"type":"point","opacity":0},"data":{"values":[]}},
{"width":72,"height":55,"mark":{"type":"point","opacity":0},"data":{"values":[]}},
{"width":515,"height":55,"mark":{"type":"point","opacity":0},"data":{"values":[]}},

{"width":159,"height":1,"mark":{"type":"point","opacity":0},"data":{"values":[]}},
{"width":572,"height":486,"view":{"stroke":"black","strokeWidth":3.5},
 "resolve":{"axis":{"x":"independent","y":"independent"},"scale":{"shape":"independent","fill":"independent","stroke":"independent"}},
 "layer":[
  {"data":{"name":"pb"},"transform":[{"fold":["6","8","10","12","14","16"],"as":["key","S"]},{"calculate":"toNumber(datum.key)","as":"L"}],
   "mark":{"type":"line","strokeWidth":17,"interpolate":"monotone","clip":true,"color":"#2a2a2a","opacity":0.55},
   "encoding":{
    "x":{"field":"t","type":"quantitative","scale":{"type":"log","domain":[0.1,1e9],"nice":false},"axis":null},
    "y":{"field":"S","type":"quantitative","scale":{"domain":[0,1.5],"nice":false,"zero":false},"axis":null},
    "detail":{"field":"L","type":"nominal"}}},
  {"data":{"name":"pb"},"transform":[{"fold":["6","8","10","12","14","16"],"as":["key","S"]},{"calculate":"toNumber(datum.key)","as":"L"}],
   "mark":{"type":"line","strokeWidth":13,"interpolate":"monotone","clip":true},
   "encoding":{
    "x":{"field":"t","type":"quantitative","axis":{"orient":"bottom","values":[1,1000,1000000],"tickSize":-14,"labels":false,"title":null}},
    "y":{"field":"S","type":"quantitative","axis":{"orient":"left","values":[0,0.5,1,1.5],"format":".1f","ticks":false,"tickSize":0,"labelPadding":14,"title":"S/ln2","titleFontSize":62,"titleX":-115,"titleY":243,"titleAngle":270,"titleBaseline":"middle","titleAlign":"center"}},
    "color":{"field":"L","type":"nominal","scale":{"domain":[6,8,10,12,14,16],"range":["#1b1b84","#1f7a1f","#8a1c1c","#0e2b2b","#7d1d7d","#c8c81e"]},"legend":null}}},
  {"data":{"name":"pb"},"transform":[{"fold":["6","8","10","12","14","16"],"as":["key","S"]},{"calculate":"toNumber(datum.key)","as":"L"}],
   "mark":{"type":"point","filled":true,"size":170,"stroke":"black","strokeWidth":1,"opacity":1,"clip":true},
   "encoding":{
    "x":{"field":"t","type":"quantitative","axis":{"orient":"bottom","tickCount":50,"tickSize":-7,"labels":false,"title":null}},
    "y":{"field":"S","type":"quantitative","axis":{"orient":"left","values":[0.5,1],"tickSize":-14,"labels":false,"title":null}},
    "color":{"field":"L","type":"nominal","scale":{"domain":[6,8,10,12,14,16],"range":["#1b1b84","#1f7a1f","#8a1c1c","#0e2b2b","#7d1d7d","#c8c81e"]},"legend":null},
    "shape":{"field":"L","type":"nominal","scale":{"domain":[6,8,10,12,14,16],"range":["triangle-up","square","triangle-down","diamond","circle","square"]},"legend":null},
    "order":{"field":"L","type":"quantitative"}}},
  {"data":{"name":"pb"},"mark":{"type":"point","opacity":0},
   "encoding":{"x":{"field":"t","type":"quantitative","axis":{"orient":"top","values":[1,1000,1000000],"tickSize":-14,"labels":false,"title":null}},
    "y":{"field":"6","type":"quantitative","axis":{"orient":"left","values":[0.25,0.75,1.25],"tickSize":-8,"labels":false,"title":null}}}},
  {"data":{"name":"pb"},"mark":{"type":"point","opacity":0},
   "encoding":{"x":{"field":"t","type":"quantitative","axis":{"orient":"top","tickCount":50,"tickSize":-7,"labels":false,"title":null}},
    "y":{"field":"6","type":"quantitative","axis":{"orient":"right","values":[0.5,1],"tickSize":-14,"labels":false,"title":null}}}},
  {"data":{"name":"pb"},"mark":{"type":"point","opacity":0},
   "encoding":{"x":{"field":"t","type":"quantitative","axis":{"orient":"bottom","values":[1,1000,1000000,1000000000],"ticks":false,"tickSize":0,"labelPadding":8,"labelDx":-10,"labelFontSize":42,"labelExpr":"datum.value < 10 ? '10⁰' : datum.value < 1e4 ? '10³' : datum.value < 1e7 ? '10⁶' : '10⁹'","title":"t","titleFontStyle":"italic","titleFontSize":46,"titleY":28,"titleBaseline":"top"}},
    "y":{"field":"6","type":"quantitative","axis":{"orient":"right","values":[0.25,0.75,1.25],"tickSize":-8,"labels":false,"title":null}}}},
  {"data":{"values":[{}]},"mark":{"type":"rect","fill":"white","stroke":"black","strokeWidth":4},
   "encoding":{"x":{"datum":8100,"type":"quantitative","axis":null},"x2":{"datum":3160000},"y":{"datum":1.272,"type":"quantitative","axis":null},"y2":{"datum":1.466}}},
  {"data":{"values":[{}]},"mark":{"type":"text","text":"η = 10","font":"Liberation Serif","fontSize":44,"color":"#555","align":"center","baseline":"middle"},
   "encoding":{"x":{"datum":161000,"type":"quantitative","axis":null},"y":{"datum":1.369,"type":"quantitative","axis":null}}},
  {"data":{"values":[{}]},"mark":{"type":"text","text":"(b)","font":"Liberation Serif","fontSize":46,"color":"#666","align":"left","baseline":"middle"},
   "encoding":{"x":{"datum":0.1324,"type":"quantitative","axis":null},"y":{"datum":1.38,"type":"quantitative","axis":null}}},
  {"data":{"values":[{}]},"mark":{"type":"text","text":"L","font":"Liberation Serif","fontSize":34,"fontStyle":"italic","color":"#555","align":"center","baseline":"middle"},
   "encoding":{"x":{"datum":140,"type":"quantitative","axis":null},"y":{"datum":1.222,"type":"quantitative","axis":null}}},
  {"data":{"values":[]},"mark":{"type":"point","filled":true,"strokeWidth":2.5,"opacity":1},
   "encoding":{
    "fill":{"field":"L","type":"nominal","scale":{"domain":[6,8,10,12,14,16],"range":["#14145a","#1e7a1e","#3a0c0c","#061818","#4c124c","#c9c53a"]},"legend":{"orient":"none","legendX":59,"legendY":108,"columns":2,"title":null,"symbolSize":1936,"symbolStrokeWidth":2.5,"symbolOpacity":1,"labelFontSize":34,"labelAlign":"right","labelOffset":97,"columnPadding":92,"rowPadding":5}},
    "stroke":{"field":"L","type":"nominal","scale":{"domain":[6,8,10,12,14,16],"range":["#23239a","#2d7d2d","#c43434","#3fb3b3","#9b2a9b","#c9c24a"]},"legend":{"orient":"none","legendX":59,"legendY":108,"columns":2,"title":null,"symbolSize":1936,"symbolStrokeWidth":2.5,"symbolOpacity":1,"labelFontSize":34,"labelAlign":"right","labelOffset":97,"columnPadding":92,"rowPadding":5}},
    "shape":{"field":"L","type":"nominal","scale":{"domain":[6,8,10,12,14,16],"range":[
      "M-1.9,0H-1.05M1.05,0H1.9M0,-1V1M-0.4,-1H0.4M-0.4,1H0.4M0,-0.4L0.38,0.27H-0.38Z",
      "M-1.9,0H-1.05M1.05,0H1.9M0,-1V1M-0.4,-1H0.4M-0.4,1H0.4M-0.34,-0.34H0.34V0.34H-0.34Z",
      "M-1.9,0H-1.05M1.05,0H1.9M0,-1V1M-0.4,-1H0.4M-0.4,1H0.4M0,0.4L0.38,-0.27H-0.38Z",
      "M-1.9,0H-1.05M1.05,0H1.9M0,-1V1M-0.4,-1H0.4M-0.4,1H0.4M0,-0.36L0.34,-0.11L0.21,0.29H-0.21L-0.34,-0.11Z",
      "M-1.9,0H-1.05M1.05,0H1.9M0,-1V1M-0.4,-1H0.4M-0.4,1H0.4M-0.3,0A0.3,0.3 0 1 0 0.3,0A0.3,0.3 0 1 0 -0.3,0Z",
      "M-1.9,0H-1.05M1.05,0H1.9M0,-1V1M-0.4,-1H0.4M-0.4,1H0.4M-0.3,0H0.3"]},"legend":{"orient":"none","legendX":59,"legendY":108,"columns":2,"title":null,"symbolSize":1936,"symbolStrokeWidth":2.5,"symbolOpacity":1,"labelFontSize":34,"labelAlign":"right","labelOffset":97,"columnPadding":92,"rowPadding":5}}}}
 ]},
{"width":36,"height":1,"mark":{"type":"point","opacity":0},"data":{"values":[]}},
{"width":17,"height":486,
 "resolve":{"axis":{"x":"independent","y":"independent"}},
 "layer":[
  {"data":{"values":[{"t":0.1,"S":0.022},{"t":0.198,"S":0.022}]},"mark":{"type":"line","strokeWidth":14,"color":"#0d0d55","clip":true},
   "encoding":{"x":{"field":"t","type":"quantitative","scale":{"type":"log","domain":[0.1,0.198],"nice":false},"axis":{"orient":"bottom","domain":true,"domainColor":"black","domainWidth":3.5,"ticks":false,"labels":false,"title":null}},
    "y":{"field":"S","type":"quantitative","scale":{"domain":[0,1.5],"nice":false},"axis":{"orient":"left","domain":true,"domainColor":"black","domainWidth":3.5,"values":[0.5,1],"tickSize":-14,"labels":false,"title":null}}}},
  {"data":{"values":[{"t":0.1,"S":0.02}]},"mark":{"type":"point","opacity":0},
   "encoding":{"x":{"field":"t","type":"quantitative","axis":{"orient":"top","domain":true,"domainColor":"black","domainWidth":3.5,"ticks":false,"labels":false,"title":null}},
    "y":{"field":"S","type":"quantitative","axis":{"orient":"left","values":[0.25,0.75,1.25],"tickSize":-8,"labels":false,"title":null}}}},
  {"data":{"values":[{}]},"mark":{"type":"text","text":"(d)","font":"Liberation Serif","fontSize":46,"color":"#666","align":"left","baseline":"middle","clip":true},
   "encoding":{"x":{"datum":0.1324,"type":"quantitative","axis":null},"y":{"datum":1.38,"type":"quantitative","axis":null}}}
 ]},
{"width":141,"height":486,
 "layer":[
  {"data":{"values":[{"ref":"Singh et al arXiv:1505.05045 (2015)"}]},
   "mark":{"type":"text","font":"Liberation Sans","fontSize":61,"align":"left","baseline":"alphabetic","color":"black"},
   "encoding":{"x":{"datum":0.1844,"type":"quantitative","scale":{"domain":[0,1],"nice":false},"axis":null},
    "y":{"datum":0.323,"type":"quantitative","scale":{"domain":[0,1],"nice":false,"reverse":true},"axis":null},
    "text":{"field":"ref"}}},
  {"data":{"values":[{"ref":"J. H. Bardarson et al Phys.Rev. Lett. 109, 017202 (2012)\nM. Serbyn et al Phys. Rev. Lett. 110, 260601 (2013)\nR. Vosk et al, Phys. Rev. Lett. 110, 06720 (2013)"}]},
   "mark":{"type":"text","font":"Liberation Sans","fontSize":61,"align":"left","baseline":"alphabetic","color":"black","lineBreak":"\n","lineHeight":50.5},
   "encoding":{"x":{"datum":0.1844,"type":"quantitative"},"y":{"datum":0.603,"type":"quantitative"},"text":{"field":"ref"}}},
  {"data":{"values":[{"note":"+many others"}]},
   "mark":{"type":"text","font":"Open Sans","fontSize":86,"align":"left","baseline":"alphabetic","color":"#c8290e"},
   "encoding":{"x":{"datum":1.908,"type":"quantitative"},"y":{"datum":1.216,"type":"quantitative"},"text":{"field":"note"}}}
 ]}
]
}
